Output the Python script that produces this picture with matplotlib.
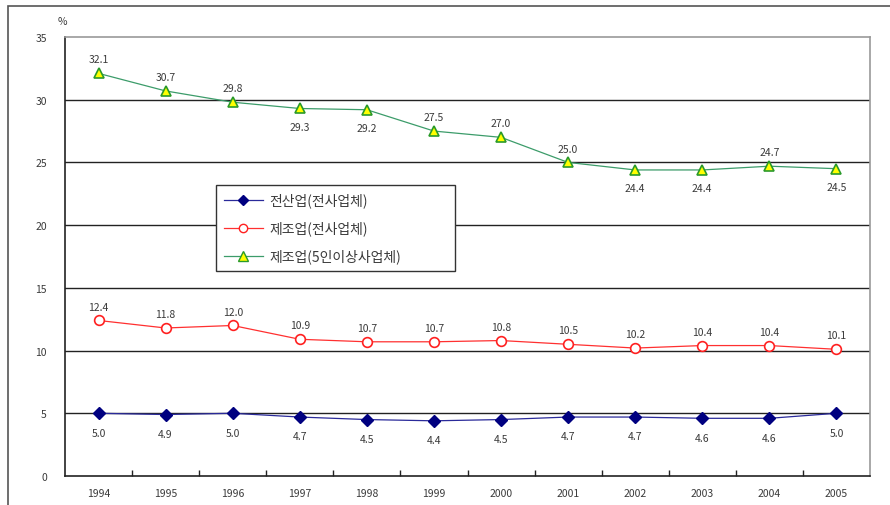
import numpy as np
import matplotlib.pyplot as plt
from matplotlib.patches import Rectangle
from matplotlib.lines import Line2D

plt.rcParams['font.family'] = ['Noto Sans CJK KR', 'DejaVu Sans']

# data
years = ["1994", "1995", "1996", "1997", "1998", "1999", "2000", "2001", "2002", "2003", "2004", "2005"]
all_industry = [5.0, 4.9, 5.0, 4.7, 4.5, 4.4, 4.5, 4.7, 4.7, 4.6, 4.6, 5.0]
manuf_all = [12.4, 11.8, 12.0, 10.9, 10.7, 10.7, 10.8, 10.5, 10.2, 10.4, 10.4, 10.1]
manuf_5plus = [32.1, 30.7, 29.8, 29.3, 29.2, 27.5, 27.0, 25.0, 24.4, 24.4, 24.7, 24.5]
series_names = ["전산업(전사업체)", "제조업(전사업체)", "제조업(5인이상사업체)"]
# label placement for the green series: 1 = above, -1 = below
green_pos = [1, 1, 1, -1, -1, 1, 1, 1, -1, -1, 1, -1]

fig = plt.figure(figsize=(8.9, 5.06), dpi=100)
ax = fig.add_axes([65 / 890, 29 / 506, 805 / 890, 439 / 506])

# outer frame of the picture (cut off at right and bottom)
fig.patches.append(Rectangle((8 / 890, -0.05), 1.0, (499 / 506) + 0.05,
                             transform=fig.transFigure, fill=False,
                             edgecolor="#555555", linewidth=1.2))

x = np.arange(len(years))
txt_color = "#3a3a3a"

# gridlines
for v in [5, 10, 15, 20, 25, 30]:
    ax.axhline(v, color="#222222", linewidth=1.0, zorder=1)

ax.plot(x, all_industry, color="#2a2a9a", linewidth=0.9, marker="D", markersize=6,
        markerfacecolor="#000080", markeredgecolor="#000080", zorder=3)
ax.plot(x, manuf_all, color="#ff3030", linewidth=0.9, marker="o", markersize=7,
        markerfacecolor="white", markeredgecolor="#ff2020", markeredgewidth=1.2, zorder=3)
ax.plot(x, manuf_5plus, color="#3c9c6a", linewidth=0.9, marker="^", markersize=7.5,
        markerfacecolor="#ffff00", markeredgecolor="#2a9a2a", markeredgewidth=1.2, zorder=3)

for i in range(len(years)):
    ax.annotate(f"{all_industry[i]:.1f}", (x[i], all_industry[i]), xytext=(0, -14),
                textcoords="offset points", ha="center", va="center", fontsize=7.5, color=txt_color)
    ax.annotate(f"{manuf_all[i]:.1f}", (x[i], manuf_all[i]), xytext=(0, 10),
                textcoords="offset points", ha="center", va="center", fontsize=7.5, color=txt_color)
    dy = 10 if green_pos[i] > 0 else -13
    ax.annotate(f"{manuf_5plus[i]:.1f}", (x[i], manuf_5plus[i]), xytext=(0, dy),
                textcoords="offset points", ha="center", va="center", fontsize=7.5, color=txt_color)

ax.set_xlim(-0.5, len(years) - 0.5)
ax.set_ylim(0, 35)
ax.set_yticks([0, 5, 10, 15, 20, 25, 30, 35])
ax.set_xticks(x)
ax.set_xticklabels(years)
ax.set_xticks(np.arange(0.5, len(years) - 1, 1), minor=True)
ax.tick_params(axis="x", which="major", length=0, pad=9, labelsize=7.5, labelcolor=txt_color)
ax.tick_params(axis="x", which="minor", direction="in", length=4, width=1, color="#222222")
ax.tick_params(axis="y", length=0, pad=13, labelsize=7.5, labelcolor=txt_color)

for side in ["top", "right"]:
    ax.spines[side].set_color("#999999")
    ax.spines[side].set_linewidth(1.2)
for side in ["left", "bottom"]:
    ax.spines[side].set_color("#222222")
    ax.spines[side].set_linewidth(1.2)

fig.text(62 / 890, 1 - 22 / 506, "%", fontsize=7.5, color=txt_color, ha="center", va="center")

handles = [
    Line2D([], [], color="#2a2a9a", linewidth=0.9, marker="D", markersize=5,
           markerfacecolor="#000080", markeredgecolor="#000080"),
    Line2D([], [], color="#ff3030", linewidth=0.9, marker="o", markersize=6,
           markerfacecolor="white", markeredgecolor="#ff2020"),
    Line2D([], [], color="#3c9c6a", linewidth=0.9, marker="^", markersize=6.5,
           markerfacecolor="#ffff00", markeredgecolor="#2a9a2a"),
]
# legend box: x 216-455 px, y 186-272 px in the figure
leg = ax.legend(handles, series_names, loc="upper left", mode="expand",
                bbox_to_anchor=(151 / 805, 1 - 234 / 439, 239 / 805, 86 / 439),
                fontsize=10, frameon=True, fancybox=False, edgecolor="#333333",
                handlelength=2.8, handletextpad=0.5, labelspacing=0.95,
                borderpad=0.55, borderaxespad=0, framealpha=1)
leg.get_frame().set_linewidth(1.0)
for t in leg.get_texts():
    t.set_color(txt_color)

fig.savefig("out.png", dpi=100)
